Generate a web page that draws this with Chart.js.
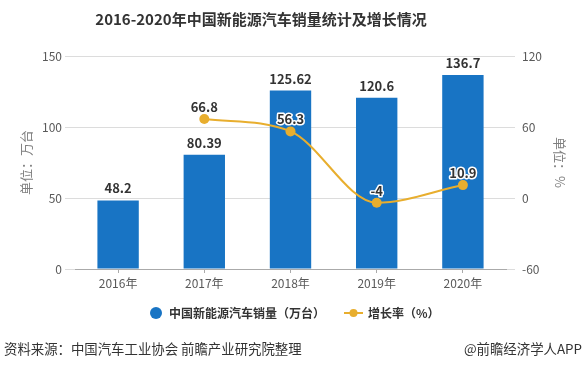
<!DOCTYPE html>
<html>
<head>
<meta charset="utf-8">
<script src="https://cdn.jsdelivr.net/npm/chart.js@4/dist/chart.umd.min.js"></script>
<style>
  body { margin: 0; background: #fff; }
  #wrap { width: 584px; height: 369px; }
</style>
</head>
<body>
<div id="wrap"><canvas id="myChart" width="584" height="369"></canvas></div>
<script>
"use strict";
var years = ['2016年', '2017年', '2018年', '2019年', '2020年'];
var sales = [48.2, 80.39, 125.62, 120.6, 136.7];
var growth = [null, 66.8, 56.3, -4, 10.9];
var salesName = '中国新能源汽车销量（万台）';
var growthName = '增长率（%）';
var titleText = '2016-2020年中国新能源汽车销量统计及增长情况';
var sourceText = '资料来源：中国汽车工业协会 前瞻产业研究院整理';
var brandText = '@前瞻经济学人APP';

var font = '"Noto Sans CJK SC", "Microsoft YaHei", sans-serif';
var blue = '#1874c4';
var gold = '#e8ae2e';
var gridColor = '#dcdcdc';

// title, legend, footer and value labels
var extras = {
    id: 'extras',
    afterDatasetsDraw: function (chart) {
        var ctx = chart.ctx;
        ctx.save();
        ctx.textBaseline = 'middle';

        ctx.fillStyle = '#333';
        ctx.font = 'bold 15px ' + font;
        ctx.textAlign = 'center';
        ctx.fillText(titleText, 261, 19);

        // bar values
        ctx.font = 'bold 13px ' + font;
        chart.getDatasetMeta(0).data.forEach(function (bar, i) {
            ctx.fillStyle = '#333';
            ctx.fillText(String(sales[i]), bar.x, bar.y - 12);
        });

        // line values
        chart.getDatasetMeta(1).data.forEach(function (pt, i) {
            if (growth[i] === null) return;
            var txt = String(growth[i]);
            ctx.lineWidth = 3;
            ctx.strokeStyle = '#fff';
            ctx.lineJoin = 'round';
            ctx.strokeText(txt, pt.x, pt.y - 12);
            ctx.fillStyle = '#333';
            ctx.fillText(txt, pt.x, pt.y - 12);
        });

        // legend
        var ly = 313;
        ctx.fillStyle = blue;
        ctx.beginPath();
        ctx.arc(156, ly, 6, 0, Math.PI * 2);
        ctx.fill();
        ctx.font = 'bold 12px ' + font;
        ctx.textAlign = 'left';
        ctx.fillStyle = '#333';
        ctx.fillText(salesName, 169, ly);

        ctx.strokeStyle = gold;
        ctx.lineWidth = 2;
        ctx.beginPath();
        ctx.moveTo(344, ly);
        ctx.lineTo(363, ly);
        ctx.stroke();
        ctx.fillStyle = gold;
        ctx.beginPath();
        ctx.arc(353.5, ly, 4, 0, Math.PI * 2);
        ctx.fill();
        ctx.fillStyle = '#333';
        ctx.fillText(growthName, 368, ly);

        // footer
        ctx.font = '13.4px ' + font;
        ctx.fillStyle = '#333';
        ctx.fillText(sourceText, 4, 349);
        ctx.textAlign = 'right';
        ctx.fillText(brandText, 582, 349);
        ctx.restore();
    }
};

var ctx = document.getElementById('myChart').getContext('2d');
var chart = new Chart(ctx, {
    type: 'bar',
    data: {
        labels: years,
        datasets: [{
            type: 'bar',
            label: salesName,
            data: sales,
            backgroundColor: blue,
            yAxisID: 'y',
            categoryPercentage: 1,
            barPercentage: 0.48,
            order: 2
        }, {
            type: 'line',
            label: growthName,
            data: growth,
            borderColor: gold,
            backgroundColor: gold,
            borderWidth: 2,
            pointRadius: 5,
            pointBackgroundColor: gold,
            pointBorderWidth: 0,
            cubicInterpolationMode: 'monotone',
            yAxisID: 'y1',
            order: 1
        }]
    },
    options: {
        responsive: false,
        animation: false,
        layout: { padding: { top: 56, bottom: 70, left: 0, right: 0 } },
        plugins: {
            legend: { display: false },
            title: { display: false },
            tooltip: { enabled: false }
        },
        scales: {
            x: {
                offset: true,
                afterFit: function (s) { s.height = 30; },
                grid: { offset: false, drawOnChartArea: false, tickLength: 4, color: '#aaa' },
                border: { color: '#aaa' },
                ticks: { color: '#595959', font: { size: 12, family: font }, padding: 3 }
            },
            y: {
                position: 'left',
                min: 0, max: 150,
                afterFit: function (s) { s.width = 75; },
                ticks: { stepSize: 50, color: '#595959', font: { size: 12, family: font }, padding: 3 },
                grid: { color: gridColor, tickLength: 10 },
                border: { display: false },
                title: { display: true, text: '单位：万台', color: '#7f7f7f', font: { size: 13, family: font }, padding: { top: 18, bottom: 0 } }
            },
            y1: {
                position: 'right',
                min: -60, max: 120,
                afterFit: function (s) { s.width = 78; },
                ticks: { stepSize: 60, color: '#595959', font: { size: 12, family: font }, padding: 7 },
                grid: { drawOnChartArea: false, color: gridColor, tickLength: 9 },
                border: { display: false },
                title: { display: true, text: '单位：%', color: '#7f7f7f', font: { size: 13, family: font }, padding: { top: 16, bottom: 0 } }
            }
        }
    },
    plugins: [extras]
});
</script>
</body>
</html>
